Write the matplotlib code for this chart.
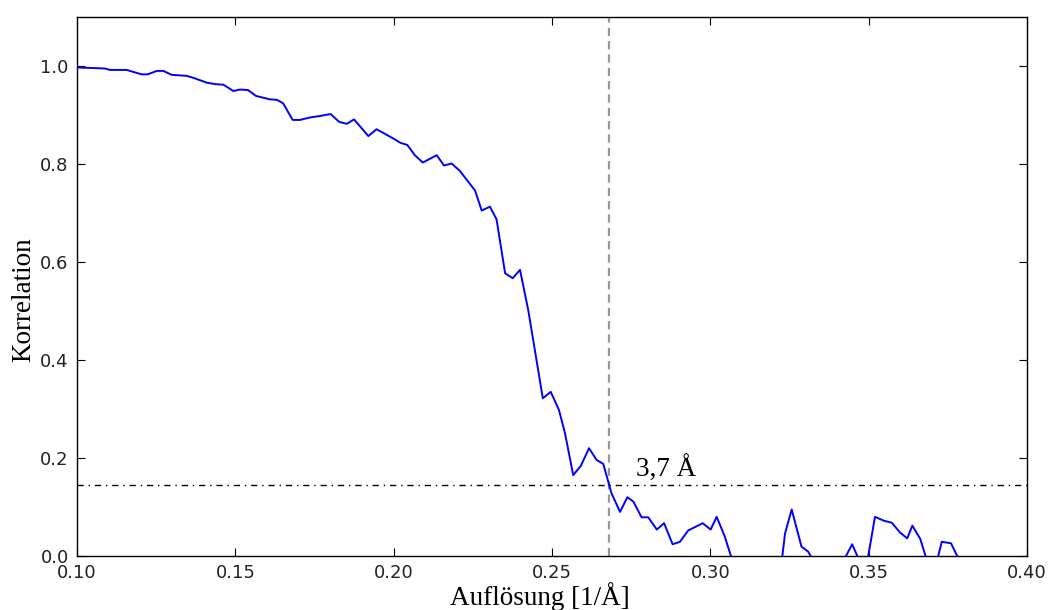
import numpy as np
import matplotlib
matplotlib.use('Agg')
import matplotlib.pyplot as plt

# --- data (resolution in 1/A, correlation) ---
resolution = [0.1000, 0.1088, 0.1104, 0.1157, 0.1204, 0.1223, 0.1252, 0.1273, 0.1299, 0.1346,
              0.1367, 0.1410, 0.1436, 0.1462, 0.1494, 0.1515, 0.1540, 0.1565, 0.1609, 0.1631,
              0.1651, 0.1681, 0.1704, 0.1736, 0.1767, 0.1801, 0.1828, 0.1852, 0.1875, 0.1899,
              0.1920, 0.1946, 0.1999, 0.2022, 0.2043, 0.2067, 0.2092, 0.2136, 0.2159, 0.2183,
              0.2209, 0.2257, 0.2278, 0.2304, 0.2325, 0.2352, 0.2376, 0.2399, 0.2425, 0.2471,
              0.2496, 0.2522, 0.2541, 0.2567, 0.2591, 0.2617, 0.2641, 0.2662, 0.2688, 0.2715,
              0.2738, 0.2757, 0.2783, 0.2804, 0.2831, 0.2854, 0.2881, 0.2904, 0.2930, 0.2976,
              0.3001, 0.3020, 0.3045, 0.3072, 0.3150, 0.3220, 0.3236, 0.3257, 0.3288, 0.3309,
              0.3334, 0.3405, 0.3448, 0.3473, 0.3494, 0.3520, 0.3548, 0.3573, 0.3599, 0.3622,
              0.3638, 0.3663, 0.3683, 0.3715, 0.3731, 0.3760, 0.3785, 0.3850, 0.3950, 0.4000]
correlation = [0.997, 0.995, 0.992, 0.992, 0.983, 0.983, 0.990, 0.990, 0.982, 0.980,
               0.976, 0.966, 0.963, 0.962, 0.949, 0.952, 0.951, 0.939, 0.932, 0.931,
               0.924, 0.890, 0.890, 0.895, 0.898, 0.902, 0.886, 0.882, 0.891, 0.873,
               0.857, 0.871, 0.852, 0.843, 0.839, 0.818, 0.803, 0.818, 0.797, 0.801,
               0.786, 0.746, 0.705, 0.713, 0.687, 0.577, 0.567, 0.584, 0.502, 0.322,
               0.335, 0.298, 0.251, 0.165, 0.184, 0.220, 0.196, 0.188, 0.128, 0.090,
               0.120, 0.111, 0.079, 0.079, 0.054, 0.067, 0.024, 0.029, 0.052, 0.067,
               0.054, 0.080, 0.041, -0.014, -0.050, -0.040, 0.046, 0.095, 0.019, 0.009,
               -0.020, -0.029, 0.024, -0.013, -0.018, 0.080, 0.072, 0.068, 0.048, 0.036,
               0.062, 0.035, -0.007, -0.012, 0.029, 0.026, -0.007, -0.030, -0.040, -0.030]

cutoff_res = 0.268      # 1/3.7 A
threshold = 0.145
label_text = '3,7 Å'

# --- figure ---
fig = plt.figure(figsize=(10.49, 6.10), dpi=100)
ax = fig.add_axes([0.0734, 0.0885, 0.9056, 0.8836])

ax.plot(resolution, correlation, color='#0000ff', lw=1.4, zorder=3)
ax.axvline(cutoff_res, color='#999999', lw=1.6, dashes=(3.7, 2.3), zorder=2)
ax.axhline(threshold, color='black', lw=1.0, dashes=(4.5, 3.5, 1.0, 3.5), zorder=2)
ax.text(0.2765, 0.162, label_text, family='Liberation Serif', fontsize=19.5, color='black')

ax.set_xlim(0.10, 0.40)
ax.set_ylim(0.0, 1.1)
ax.set_xticks(np.arange(0.10, 0.401, 0.05))
ax.set_yticks(np.arange(0.0, 1.01, 0.2))
ax.xaxis.set_major_formatter(matplotlib.ticker.FormatStrFormatter('%.2f'))
ax.yaxis.set_major_formatter(matplotlib.ticker.FormatStrFormatter('%.1f'))
ax.tick_params(direction='in', top=True, right=True, length=6, width=0.8,
               labelsize=13, pad=6, labelcolor='#222222')

for s in ax.spines.values():
    s.set_linewidth(1.0)

ax.set_xlabel('Auflösung [1/Å]', family='Liberation Serif', fontsize=19.5, labelpad=0)
ax.set_ylabel('Korrelation', family='Liberation Serif', fontsize=19.5, labelpad=3)
ax.xaxis.label.set_x(0.487)
ax.yaxis.label.set_y(0.475)

fig.savefig('out.png', dpi=100)
